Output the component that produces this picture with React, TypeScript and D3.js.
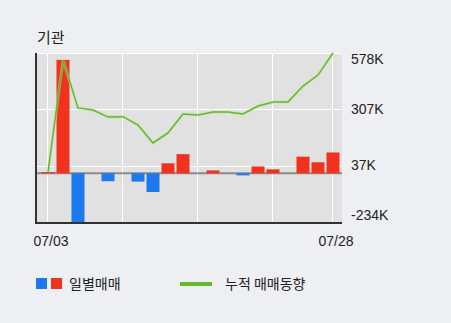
import React from "react";
import * as d3 from "d3";

const dates = ["07/03","07/04","07/05","07/06","07/07","07/10","07/11","07/12","07/13","07/14","07/17","07/18","07/19","07/20","07/21","07/24","07/25","07/26","07/27","07/28"];
const daily = [6, 545, -236, 0, -38, 0, -40, -90, 48, 92, 0, 14, 0, -10, 33, 19, 0, 80, 53, 100];
const cumulative = [5, 544, 314, 304, 270, 272, 232, 146, 194, 285, 280, 294, 294, 285, 323, 342, 342, 419, 472, 578];
const yTicks = [578, 307, 37, -234];
const xTickIdx = [0, 19];
const vGridIdx = [0, 5, 10, 15, 19];

const W = 451, H = 323;
const L = 36, R = 342, T = 53, B = 223;
const RED = "#f0321f", BLUE = "#1f79ee", GREEN = "#69b72e";
const FONT = "'Liberation Sans', 'Noto Sans CJK KR', sans-serif";
const KFONT = "'Noto Sans CJK KR', sans-serif";

export default function App() {
  const x = d3.scaleLinear().domain([0, dates.length - 1]).range([48, 333]);
  const y = d3.scaleLinear().domain([-234, 578]).range([222, T]);
  const bw = 13;
  const line = d3.line<number>().x((_, i) => x(i)).y(d => y(d));
  const fmt = (v: number) => `${v}K`;
  return (
    <svg width={W} height={H} style={{ position: "absolute", left: 0, top: 0, background: "#eeeff3" }}>
      <rect x={0} y={0} width={W} height={H} fill="#eeeff3" />
      <text x={37} y={43} fontFamily={KFONT} fontSize={15} fill="#222">기관</text>
      <rect x={L} y={T} width={R - L} height={B - T} fill="#e1e1e1" />
      <line x1={L} x2={R} y1={T + 0.5} y2={T + 0.5} stroke="#fff" strokeWidth={1} />
      {yTicks.slice(1, 3).map(t => (
        <line key={t} x1={L} x2={R} y1={Math.round(y(t)) + 0.5} y2={Math.round(y(t)) + 0.5} stroke="#fff" strokeWidth={1} />
      ))}
      {vGridIdx.map(i => (
        <line key={i} x1={Math.round(x(i)) - 0.5} x2={Math.round(x(i)) - 0.5} y1={T} y2={B} stroke="#fff" strokeWidth={1} />
      ))}
      <line x1={L} x2={R} y1={y(0)} y2={y(0)} stroke="#8a8a8a" strokeWidth={2} />
      {daily.map((v, i) => {
        if (v === 0) return null;
        const y0 = y(0), y1 = y(v);
        return (
          <rect key={i} x={x(i) - bw / 2} y={Math.min(y0, y1)} width={bw} height={Math.max(1, Math.abs(y1 - y0))} fill={v >= 0 ? RED : BLUE} />
        );
      })}
      <path d={line(cumulative) || ""} fill="none" stroke="#b7e39a" strokeWidth={3} strokeOpacity={0.5} />
      <path d={line(cumulative) || ""} fill="none" stroke={GREEN} strokeWidth={1.5} />
      <line x1={L} x2={L} y1={T} y2={B + 1} stroke="#333" strokeWidth={2} />
      <line x1={L} x2={R} y1={B} y2={B} stroke="#333" strokeWidth={2} />
      {yTicks.map((t, i) => {
        let yy = y(t);
        if (i === 0) yy = 59;
        if (i === yTicks.length - 1) yy = 215;
        return (
          <text key={t} x={351} y={yy} dy="0.35em" fontFamily={FONT} fontSize={14} fill="#222">{fmt(t)}</text>
        );
      })}
      {xTickIdx.map(i => (
        <text key={i} x={x(i) + 3} y={246} textAnchor="middle" fontFamily={FONT} fontSize={14} fill="#222">{dates[i]}</text>
      ))}
      <rect x={36} y={278} width={11} height={11} fill={BLUE} />
      <rect x={51} y={278} width={11} height={11} fill={RED} />
      <text x={69} y={289} fontFamily={KFONT} fontSize={14} fill="#222">일별매매</text>
      <line x1={180} x2={212} y1={284} y2={284} stroke={GREEN} strokeWidth={4} />
      <text x={225} y={289} fontFamily={KFONT} fontSize={14} fill="#222">누적 매매동향</text>
    </svg>
  );
}
